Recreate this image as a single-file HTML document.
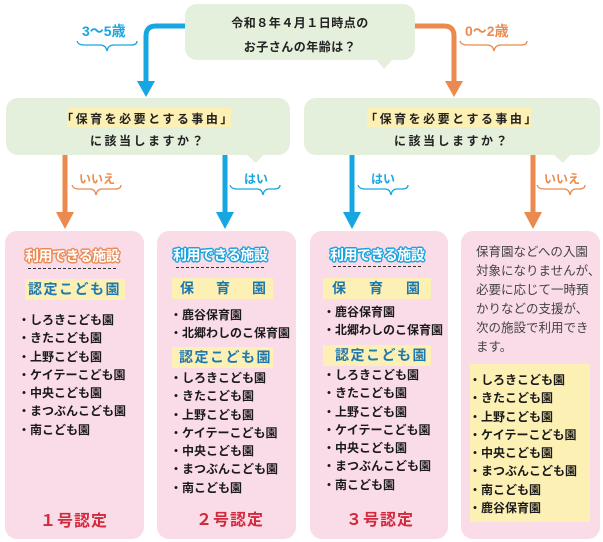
<!DOCTYPE html>
<html><head><meta charset="utf-8"><style>
*{margin:0;padding:0;box-sizing:border-box}
body{width:603px;height:542px;background:#fff;position:relative;overflow:hidden;font-family:"Liberation Sans","Noto Sans CJK JP",sans-serif;color:#222}
.a{position:absolute}
.bub{position:absolute;background:#e4efdc;border-radius:12px}
.card{position:absolute;background:#fadbe8;border-radius:12px;top:231px;height:308px;width:139px}
.t{position:absolute;font-size:14px;font-weight:bold;color:#fff;letter-spacing:-0.5px;white-space:nowrap}
.to{text-shadow:-1.5px 0 #ea8a55,1.5px 0 #ea8a55,0 -1.5px #ea8a55,0 1.5px #ea8a55,-1px -1px #ea8a55,1px 1px #ea8a55,-1px 1px #ea8a55,1px -1px #ea8a55}
.tb{text-shadow:-1.5px 0 #1aa3de,1.5px 0 #1aa3de,0 -1.5px #1aa3de,0 1.5px #1aa3de,-1px -1px #1aa3de,1px 1px #1aa3de,-1px 1px #1aa3de,1px -1px #1aa3de}
.dash{position:absolute;border-top:1.5px dashed #333;width:88px}
.yb{position:absolute;background:#fcf0b4;color:#1f77b0;font-weight:bold;font-size:14px;height:21px;line-height:21px;white-space:nowrap}
.it{position:absolute;font-size:12px;font-weight:bold;line-height:18.3px;white-space:nowrap;color:#1a1a1a}
.num{position:absolute;color:#d22a3d;font-weight:bold;font-size:16px;letter-spacing:1px;white-space:nowrap}
.lab{position:absolute;font-size:12px;font-weight:bold;white-space:nowrap}
</style></head><body>
<svg class="a" style="left:0;top:0" width="603" height="542">
 <g fill="none" stroke-width="5">
  <path d="M186 26 H156 Q146 26 146 36 V84" stroke="#16a6e1"/>
  <path d="M414 26 H444 Q454 26 454 36 V84" stroke="#eb8a4e"/>
  <path d="M65 155 V214" stroke="#eb8a4e"/>
  <path d="M225 155 V214" stroke="#16a6e1"/>
  <path d="M352 155 V214" stroke="#16a6e1"/>
  <path d="M533 155 V214" stroke="#eb8a4e"/>
 </g>
 <polygon points="137,81 155,81 146,97" fill="#16a6e1"/>
 <polygon points="445,81 463,81 454,97" fill="#eb8a4e"/>
 <polygon points="56,212 74,212 65,229" fill="#eb8a4e"/>
 <polygon points="216,212 234,212 225,229" fill="#16a6e1"/>
 <polygon points="343,212 361,212 352,229" fill="#16a6e1"/>
 <polygon points="524,212 542,212 533,229" fill="#eb8a4e"/>
 <g fill="none" stroke-width="1.3">
  <path d="M77 41 Q78 45 84 45 H100 Q106 45 107 51 Q108 45 114 45 H131 Q137 45 137 41" stroke="#16a6e1"/>
  <path d="M460 41 Q461 45 467 45 H487 Q493 45 494 51 Q495 45 501 45 H521 Q527 45 527 41" stroke="#eb8a4e"/>
  <path d="M72 185 Q73 189 79 189 H90 Q95 189 96 195 Q97 189 102 189 H115 Q121 189 121 185" stroke="#eb8a4e"/>
  <path d="M230 185 Q231 189 237 189 H257 Q262 189 263 195 Q264 189 269 189 H274 Q280 189 280 185" stroke="#16a6e1"/>
  <path d="M358 185 Q359 189 365 189 H385 Q390 189 391 195 Q392 189 397 189 H402 Q408 189 408 185" stroke="#16a6e1"/>
  <path d="M537 185 Q538 189 544 189 H564 Q569 189 570 195 Q571 189 576 189 H579 Q585 189 585 185" stroke="#eb8a4e"/>
 </g>
 <polygon points="376,59 393,59 384,69" fill="#e4efdc"/>
 <polygon points="246,154 264,154 256,163" fill="#e4efdc"/>
 <polygon points="553,154 571,154 563,163" fill="#e4efdc"/>
</svg>
<div class="bub" style="left:185px;top:4px;width:230px;height:56px"></div>
<div class="a" style="left:185px;top:11px;width:230px;text-align:center;font-size:12px;font-weight:bold;line-height:24px;letter-spacing:0.5px">令和８年４月１日時点の<br>お子さんの年齢は？</div>
<div class="lab" style="left:82px;top:21px;color:#16a6e1;font-size:14px">3〜5歳</div>
<div class="lab" style="left:465px;top:21px;color:#eb8a4e;font-size:14px">0〜2歳</div>

<div class="bub" style="left:6px;top:98px;width:284px;height:57px"></div>
<div class="bub" style="left:304px;top:98px;width:296px;height:57px"></div>
<div class="a" style="left:67px;top:108px;width:164px;height:19px;background:#fcf0b4"></div>
<div class="a" style="left:367px;top:108px;width:164px;height:19px;background:#fcf0b4"></div>
<div class="a" style="left:6px;top:108px;width:284px;text-align:center;font-size:12px;font-weight:bold;line-height:22px;letter-spacing:2.5px">「保育を必要とする事由」<br>に該当しますか？</div>
<div class="a" style="left:304px;top:108px;width:296px;text-align:center;font-size:12px;font-weight:bold;line-height:22px;letter-spacing:2.5px">「保育を必要とする事由」<br>に該当しますか？</div>

<div class="lab" style="left:79px;top:170px;color:#eb8a4e">いいえ</div>
<div class="lab" style="left:244px;top:170px;color:#16a6e1">はい</div>
<div class="lab" style="left:371px;top:170px;color:#16a6e1">はい</div>
<div class="lab" style="left:544px;top:170px;color:#eb8a4e">いいえ</div>

<!-- card1 -->
<div class="card" style="left:5px"></div>
<div class="t to" style="left:25px;top:246px">利用できる施設</div>
<div class="dash" style="left:28px;top:268px"></div>
<div class="yb" style="left:25px;top:279px;width:100px;padding-left:3px;letter-spacing:1.5px">認定こども園</div>
<div class="it" style="left:18px;top:311px">・しろきこども園<br>・きたこども園<br>・上野こども園<br>・ケイテーこども園<br>・中央こども園<br>・まつぶんこども園<br>・南こども園</div>
<div class="num" style="left:40px;top:507px">１号認定</div>

<!-- card2 -->
<div class="card" style="left:157px"></div>
<div class="t tb" style="left:173px;top:245px">利用できる施設</div>
<div class="dash" style="left:176px;top:267px"></div>
<div class="yb" style="left:172px;top:278px;width:101px;padding-left:8px;letter-spacing:22px">保育園</div>
<div class="it" style="left:170px;top:306px">・鹿谷保育園<br>・北郷わしのこ保育園</div>
<div class="yb" style="left:172px;top:347px;width:101px;padding-left:7px;letter-spacing:1.5px">認定こども園</div>
<div class="it" style="left:170px;top:369px">・しろきこども園<br>・きたこども園<br>・上野こども園<br>・ケイテーこども園<br>・中央こども園<br>・まつぶんこども園<br>・南こども園</div>
<div class="num" style="left:196px;top:506px">２号認定</div>

<!-- card3 -->
<div class="card" style="left:310px;width:138px"></div>
<div class="t tb" style="left:330px;top:245px">利用できる施設</div>
<div class="dash" style="left:333px;top:266px"></div>
<div class="yb" style="left:323px;top:278px;width:108px;padding-left:9px;letter-spacing:23px">保育園</div>
<div class="it" style="left:323px;top:303px">・鹿谷保育園<br>・北郷わしのこ保育園</div>
<div class="yb" style="left:323px;top:345px;width:108px;padding-left:12px;letter-spacing:1.5px">認定こども園</div>
<div class="it" style="left:323px;top:366px">・しろきこども園<br>・きたこども園<br>・上野こども園<br>・ケイテーこども園<br>・中央こども園<br>・まつぶんこども園<br>・南こども園</div>
<div class="num" style="left:346px;top:506px">３号認定</div>

<!-- card4 -->
<div class="card" style="left:461px;width:139px"></div>
<div class="a" style="left:476px;top:243px;font-size:12.5px;line-height:19px;color:#444;white-space:nowrap">保育園などへの入園<br>対象になりませんが、<br>必要に応じて一時預<br>かりなどの支援が、<br>次の施設で利用でき<br>ます。</div>
<div class="a" style="left:470px;top:364px;width:120px;height:158px;background:#fcf0b4"></div>
<div class="it" style="left:469px;top:371px">・しろきこども園<br>・きたこども園<br>・上野こども園<br>・ケイテーこども園<br>・中央こども園<br>・まつぶんこども園<br>・南こども園<br>・鹿谷保育園</div>
</body></html>
